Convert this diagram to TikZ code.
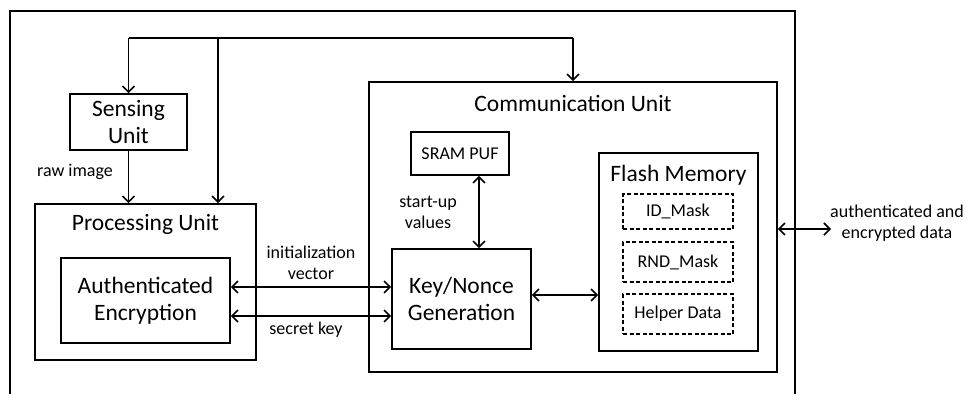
\documentclass[tikz,border=0pt]{standalone}
\usepackage{fontspec}
\setmainfont{Carlito}
\usetikzlibrary{arrows.meta}
\begin{document}
\begin{tikzpicture}[x=1pt,y=-1pt,
  box/.style={draw,line width=1.6pt,inner sep=0pt,align=center},
  dbox/.style={box,dashed,dash pattern=on 4pt off 2.5pt},
  big/.style={font=\fontsize{23.5}{27.5}\selectfont},
  small/.style={font=\fontsize{18}{21}\selectfont},
  arr/.style={line width=1.6pt,-{Straight Barb[length=6pt,width=12pt,line width=1.6pt]}},
  darr/.style={line width=1.6pt,{Straight Barb[length=6pt,width=12pt,line width=1.6pt]}-{Straight Barb[length=6pt,width=12pt,line width=1.6pt]}},
  lbl/.style={small,align=center,inner sep=0pt}]
\useasboundingbox (0,0) rectangle (968,394);
% outer frame
\draw[line width=1.6pt] (10,394) -- (10,11) -- (795,11) -- (795,394);
% boxes
\node[box,big,minimum width=117,minimum height=56] (sens) at (128.5,122) {Sensing\\Unit};
\node[box,minimum width=221,minimum height=156] (proc) at (145.5,282) {};
\node[big,inner sep=0pt] (proct) at (145.5,224) {Processing Unit};
\node[box,big,minimum width=169,minimum height=85] (ae) at (145.5,300.5) {Authenticated\\Encryption};
\node[box,minimum width=408,minimum height=290] (comm) at (573,227) {};
\node[big,inner sep=0pt] (commt) at (573,103) {Communication Unit};
\node[box,small,minimum width=98,minimum height=43] (sram) at (460,153.5) {SRAM PUF};
\node[box,big,minimum width=139,minimum height=100] (kn) at (461.5,299) {Key/Nonce\\Generation};
\node[box,minimum width=159,minimum height=198] (flash) at (678.5,252) {};
\node[big,inner sep=0pt] (flasht) at (678.5,175) {Flash Memory};
\node[dbox,small,minimum width=110,minimum height=35] (idm) at (678,211.5) {ID\_Mask};
\node[dbox,small,minimum width=110,minimum height=40] (rnd) at (678,262) {RND\_Mask};
\node[dbox,small,minimum width=110,minimum height=40] (help) at (678,314) {Helper Data};
% coordinates
\coordinate (tl) at (128.5,38);
\coordinate (tm) at (218,38);
\coordinate (tr) at (573,38);
\coordinate (iv) at (0,287);
\coordinate (sk) at (0,316);
\coordinate (su) at (479,0);
\coordinate (fl) at (0,295);
\coordinate (out) at (831,229);
% connectors
\draw[line width=1.6pt] (tl) -- (tr);
\draw[arr] (tl) -- (sens.north);
\draw[arr] (tm) -- (tm |- proc.north);
\draw[arr] (tr) -- (comm.north);
\draw[arr] (sens.south) -- (sens.south |- proc.north);
\draw[darr] (ae.east |- iv) -- (kn.west |- iv);
\draw[darr] (ae.east |- sk) -- (kn.west |- sk);
\draw[darr] (sram.south -| su) -- (kn.north -| su);
\draw[darr] (kn.east |- fl) -- (flash.west |- fl);
\draw[darr] (comm.east |- out) -- (out);
% labels
\node[lbl] (lraw) at (75,172) {raw image};
\node[lbl] (liv) at (311,262.5) {initialization\\vector};
\node[lbl] (lsk) at (306,330) {secret key};
\node[lbl] (lsu) at (428,212.5) {start-up\\values};
\node[lbl] (lout) at (897,223) {authenticated and\\encrypted data};
\end{tikzpicture}
\end{document}
